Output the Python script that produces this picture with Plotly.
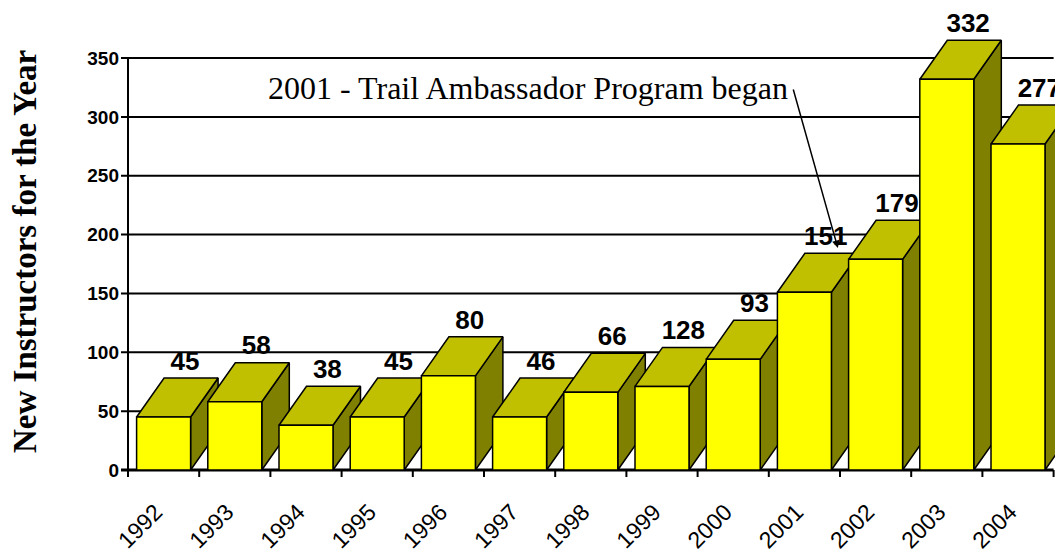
import plotly.graph_objects as go

# data
years = ["1992", "1993", "1994", "1995", "1996", "1997", "1998",
         "1999", "2000", "2001", "2002", "2003", "2004"]
bar_values = [45, 58, 38, 45, 80, 45, 66, 71, 94, 151, 179, 332, 277]
bar_labels = ["45", "58", "38", "45", "80", "46", "66",
              "128", "93", "151", "179", "332", "277"]
y_ticks = [0, 50, 100, 150, 200, 250, 300, 350]

NARROW = "Liberation Sans Narrow, Arial Narrow, Liberation Sans, Arial"
SERIF = "Liberation Serif, Times New Roman, serif"

# pixel scale of the reference
PX_CAT = 71.2      # px per category
PX_UNIT = 1.177    # px per y unit
W = 54 / PX_CAT    # front face width
DX = 27.5 / PX_CAT # 3d depth offset
DY = 39 / PX_UNIT

FRONT = "#FFFF00"
TOP = "#C0C000"
SIDE = "#808000"

fig = go.Figure()

def poly(xs, ys, color):
    return go.Scatter(x=xs + [xs[0]], y=ys + [ys[0]], mode="lines", fill="toself",
                      fillcolor=color, line=dict(color="black", width=1.5),
                      hoverinfo="skip", showlegend=False)

for i, v in enumerate(bar_values):
    xl, xr = i - W / 2, i + W / 2
    fig.add_trace(poly([xr, xr + DX, xr + DX, xr], [0, DY, v + DY, v], SIDE))
    fig.add_trace(poly([xl, xr, xr + DX, xl + DX], [v, v, v + DY, v + DY], TOP))
    fig.add_trace(poly([xl, xr, xr, xl], [0, 0, v, v], FRONT))

# value labels above the bars
fig.add_trace(go.Scatter(
    x=[i + 0.3 for i in range(len(bar_values))],
    y=[v + DY + 1.5 for v in bar_values],
    text=bar_labels, mode="text", textposition="top center",
    textfont=dict(family=NARROW, size=26, color="black", weight="bold"),
    cliponaxis=False, hoverinfo="skip", showlegend=False))

# grid, axis lines and ticks as shapes
shapes = []
x_left = -0.5 - 7 / PX_CAT
x_end = len(years) - 0.5
for t in y_ticks:
    shapes.append(dict(type="line", xref="x", yref="y", x0=x_left, x1=x_end, y0=t, y1=t,
                       line=dict(color="black", width=3 if t == 0 else 2), layer="below"))
shapes.append(dict(type="line", xref="x", yref="y", x0=-0.5, x1=-0.5, y0=0, y1=y_ticks[-1],
                   line=dict(color="black", width=2), layer="below"))
for k in range(len(years) + 1):
    shapes.append(dict(type="line", xref="x", yref="y", x0=k - 0.5, x1=k - 0.5,
                       y0=0, y1=-7 / PX_UNIT, line=dict(color="black", width=2)))

# the page body adds an 8px margin, so the figure is laid out 8px in from the window
OFF = 8
WIDTH, HEIGHT = 1063 - OFF, 554 - OFF
ML = 120 - OFF
MB = 75
PLOT_H = HEIGHT - MB
x0 = -0.5 - 8 / PX_CAT
x1 = x0 + (WIDTH - ML) / PX_CAT
y1 = (470 - OFF) / PX_UNIT
y0 = y1 - PLOT_H / PX_UNIT

fig.update_layout(
    width=WIDTH, height=HEIGHT,
    margin=dict(l=ML, r=0, t=0, b=MB),
    paper_bgcolor="white", plot_bgcolor="white",
    shapes=shapes,
    xaxis=dict(range=[x0, x1], tickvals=[i - 0.11 for i in range(len(years))],
               ticktext=years, tickangle=-45, showgrid=False, zeroline=False,
               showline=False, ticks="", ticklabelstandoff=14, automargin=False,
               tickfont=dict(family="Liberation Sans, Arial", size=23, color="black")),
    yaxis=dict(range=[y0, y1], tickvals=y_ticks, showgrid=False, zeroline=False,
               showline=False, ticks="", automargin=False,
               tickfont=dict(family=NARROW, size=19, color="black", weight="bold")),
    annotations=[
        dict(text="New Instructors for the Year", xref="paper", yref="paper",
             x=(25 - OFF - ML) / (WIDTH - ML), y=(PLOT_H - (252 - OFF)) / PLOT_H,
             xanchor="center", yanchor="middle",
             textangle=-90, showarrow=False,
             font=dict(family=SERIF, size=33, color="black", weight="bold")),
        dict(text="2001 - Trail Ambassador Program began", xref="x", yref="y",
             x=-0.5 + (790 - 128) / PX_CAT, y=(470 - 88) / PX_UNIT,
             xanchor="right", yanchor="middle", showarrow=False,
             font=dict(family=SERIF, size=32, color="black")),
        dict(text="", xref="x", yref="y", x=9.47, y=(470 - 248) / PX_UNIT,
             ax=-45, ay=-160, showarrow=True, arrowhead=2, arrowsize=1,
             arrowwidth=1.5, arrowcolor="black", standoff=0),
    ],
)

fig.write_html("out.html")
